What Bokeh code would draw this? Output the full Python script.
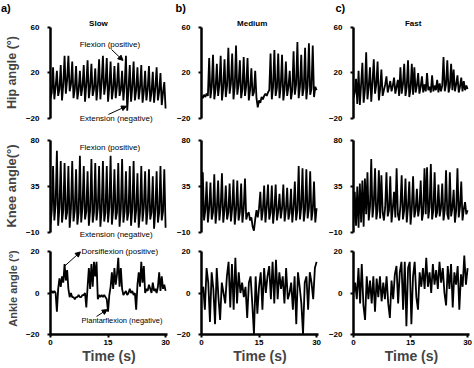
import numpy as np
from bokeh.plotting import figure
from bokeh.models import Range1d, FixedTicker, Label, Arrow, NormalHead
from bokeh.layouts import column, row
from bokeh.embed import file_html
from bokeh.resources import INLINE

# ---------------- data ----------------
speeds = ["Slow", "Medium", "Fast"]
panel_tags = ["a)", "b)", "c)"]
joint_labels = ["Hip angle (°)", "Knee angle(°)", "Ankle angle (°)"]
y_ticks = [[-20, 20, 60], [-10, 35, 80], [-20, 0, 20]]
y_limits = [(-20, 60), (-10, 80), (-20, 20)]
x_ticks = [0, 15, 30]

hip_slow = [-2,
    3, 25, -3, 8, 22, 0, 6, 27, -4, 10, 35, 2, 14, 35, 4, 10, 30, -2,
    6, 26, -3, 5, 22, 0, 8, 27, -5, 10, 31, -2, 8, 28, 0, 6, 24, -4,
    9, 32, -3, 12, 35, 1, 10, 33, -5, 8, 30, -3, 6, 26, -2, 9, 29, 0,
    5, 22, -4, 10, 35, -13, 6, 27, -5, 8, 30, -4, 5, 25, -3, 7, 27, -6,
    4, 22, -4, 6, 26, -5, 3, 21, -6, 7, 25, -4, 4, 20, -8, 3, 12, -11]
hip_medium = [0, -2, 1, -1, 2, 0,
    33, -2, 8, 36, -3, 6, 28, 0, 10, 35, -4, 7, 32, -1, 9, 42, 2, 11,
    37, -3, 8, 44, 1, 10, 31, -2, 6, 34, 0, 9, 33, -4, 5, 24, 0, 3,
    22, -2, -10, -4, -6, -1, -3, 0, 2, 0, 3, 5,
    37, -3, 8, 40, 0, 7, 37, -2, 9, 36, -4, 6, 30, 0, 8, 22, -3, 5,
    39, 1, 10, 47, -2, 8, 36, 0, 7, 42, -3, 9, 46, 1, 6, 44, -1, 8, 5]
hip_fast = [-2,
    3, 15, -7, 22, -8, 10, 29, -6, 5, 38, -3, 8, 25, -5, 12, 32, 2, 10,
    30, -4, 6, 23, 0, 5, 10, 17, 3, 8, 13, 4, 9, 16, 2, 8, 14, 0,
    25, 2, 10, 28, 0, 8, 31, -1, 6, 28, 1, 25, 3, 9, 20, 2, 8, 17,
    3, 10, 4, 20, 5, 8, 3, 18, 4, 9, 5, 14, 3, 11, 4, 9, 34, 4,
    10, 31, 3, 8, 28, 5, 23, 4, 10, 18, 3, 8, 16, 4, 13, 5, 9, 6]

knee_slow = [-2,
    12, 55, 2, 18, 70, -3, 15, 60, 0, 12, 58, 3, 10, 55, -5, 14, 60, 1,
    12, 52, -2, 10, 65, 0, 15, 55, 3, 11, 50, -3, 12, 62, 0, 10, 58, 2,
    14, 55, -4, 12, 60, 1, 10, 55, 0, 15, 65, -2, 12, 52, 3, 10, 58, -4,
    13, 62, 0, 11, 50, 2, 10, 55, -3, 14, 60, 0, 12, 48, -5, 10, 55, 1,
    15, 50, -2, 12, 52, 3, 10, 45, -6, 12, 50, 0, 10, 55, 2, 11, 52, -5]
knee_medium = [5, 49, 2,
    12, 40, 0, 14, 39, 3, 10, 47, -1, 13, 41, 2, 15, 48, 0, 12, 36, 3,
    10, 38, 1, 14, 42, -2, 12, 41, 2, 10, 38, 0, 13, 43, 3, 8, 10, 2,
    5, -4, -8, 3, 12, 5, 14, 30, 2, 12, 36, 0, 15, 37, 3, 10, 36, -1,
    13, 37, 2, 11, 28, 4, 14, 37, 1, 12, 34, 3, 10, 33, 0, 14, 40, 2,
    12, 55, 3, 15, 53, 1, 12, 52, 4, 14, 50, 2, 12, 40, 0, 14]
knee_fast = [0,
    30, -3, 35, -5, 38, 0, 41, -4, 43, 8, 49, 2, 15, 62, 5, 18, 53, 3,
    12, 51, 4, 46, 10, 2, 15, 49, 6, 12, 45, 0, 14, 30, 5, 53, 8, 2,
    16, 46, 3, 12, 43, 0, 15, 40, -2, 14, 45, 5, 12, 33, 6, 15, 41, 2,
    10, 53, 8, 54, 4, 15, 57, 3, 12, 49, 5, 10, 37, 6, 14, 38, 2, 12,
    51, 8, 3, 49, 6, 14, 32, 0, 12, 53, 5, 15, 40, 2, 13, 20, 8, 12]

ankle_slow = [0, 1, 0, 1, 0, -9, 2, 7, 3, 8, 5, 14, 6, 11, 2, -2,
    0, -2, -2, -3, -2, -2, -1, -2, -2, -1, -1, 0, -7, 3, 12, 2, 14, 3,
    15, 8, 15, -3, -1, -2, -1, -2, -1, -2, -3, -9, -1, 3, 10, 2, 12, 4,
    9, 17, 3, 12, 2, -1, 0, 1, -1, 0, 2, 0, 1, -1, 0, -8, 4, 10, 3, 15,
    5, 13, 0, 2, 1, 4, 2, 0, 5, 1, 2, 0, 3, 10, 1, 8, 2, 4, 1]
ankle_medium = [0, 3, -8, 12, 5, -14, 10, 2, -15, 12, -2, -13, 5, 0, -5,
    8, 15, -7, 14, -8, 17, -5, 10, 0, 5, -2, 3, -12, 5, 8, -5, -20, 8,
    -10, 3, 10, -8, 12, 0, 8, 13, -3, 15, -5, 16, -3, 10, 2, 8, -5, 12,
    -3, 0, 5, -8, 8, -15, 10, 3, -5, -20, 5, 8, -8, 10, 5, -3, 12, 15]
ankle_fast = [0, 5, -3, 12, -5, 14, -6, -13, 8, -3, 6, -5, 8, -9, 7, -2,
    8, -4, 5, -3, 8, -5, -12, 6, -3, 9, 13, -5, 10, 15, -8, 15, -16, 12,
    15, -15, 8, 15, -2, -8, 10, 3, 12, 2, 17, 3, 10, 0, 14, 4, 11, 2,
    15, 5, 12, 0, -6, 13, 2, 14, -7, 10, 4, 13, -8, 9, 3, 18, 4, 12]

series = [[hip_slow, hip_medium, hip_fast],
          [knee_slow, knee_medium, knee_fast],
          [ankle_slow, ankle_medium, ankle_fast]]

# ---------------- layout ----------------
FONT = "Liberation Sans"
col_left = [50, 30, 30]
col_frame = [117, 117, 116]
col_right = [4, 5, 5]
# visible frame range per row (extends beyond the axis bounds so notes fit)
row_view = [(-29.34, 70.2), (-19.46, 90.73), (-20, 24.34)]
row_frame = [114, 113, 92]
row_bottom = [0, 0, 31]
label_sizes = ["12.5px", "13px", "11px"]
STRIP_H = 15


def lab(p, x, y, text, size="8px", style="normal", align="left"):
    p.add_layout(Label(x=x, y=y, text=text, text_font=FONT, text_font_size=size,
                       text_font_style=style, text_align=align,
                       text_baseline="middle", text_color="black"))


def arr(p, x0, y0, x1, y1):
    p.add_layout(Arrow(end=NormalHead(size=5, fill_color="black", line_color="black"),
                       x_start=x0, y_start=y0, x_end=x1, y_end=y1,
                       line_color="black", line_width=1))


# top strip holding the panel tags a), b), c)
total_w = sum(col_left) + sum(col_frame) + sum(col_right)
strip = figure(frame_width=total_w, frame_height=STRIP_H, min_border=0,
               x_range=Range1d(0, total_w), y_range=Range1d(0, STRIP_H),
               x_axis_type=None, y_axis_type=None,
               output_backend="svg", toolbar_location=None)
strip.outline_line_color = None
strip.grid.visible = False
for tag, tx in zip(panel_tags, [0.5, 175, 335]):
    lab(strip, tx, 7.5, tag, "11px", "bold", "left")

rows = [strip]
for r in range(3):
    figs = []
    for c in range(3):
        vals = series[r][c]
        t = np.linspace(0, 30, len(vals))
        p = figure(frame_width=col_frame[c], frame_height=row_frame[r],
                   min_border_left=col_left[c], min_border_right=col_right[c],
                   min_border_top=0, min_border_bottom=row_bottom[r],
                   x_range=Range1d(0, 30.5), y_range=Range1d(*row_view[r]),
                   output_backend="svg", toolbar_location=None)
        p.outline_line_color = None
        p.grid.visible = False
        p.background_fill_color = "white"
        p.border_fill_color = "white"
        p.line(t, vals, line_color="black", line_width=1.8)

        for ax in (p.xaxis[0], p.yaxis[0]):
            ax.axis_line_width = 2.5
            ax.axis_line_color = "black"
            ax.major_tick_line_width = 2
            ax.major_tick_in = 0
            ax.major_tick_out = 3
            ax.minor_tick_line_color = None
            ax.major_label_text_font = FONT
            ax.major_label_text_font_style = "bold"
            ax.major_label_text_font_size = "8px"
            ax.major_label_text_color = "black"
        p.yaxis.ticker = FixedTicker(ticks=y_ticks[r])
        p.yaxis.bounds = y_limits[r]
        p.yaxis.major_label_standoff = 8
        p.xaxis.ticker = FixedTicker(ticks=x_ticks)
        p.xaxis.major_label_standoff = 2
        if r < 2:
            p.xaxis.visible = False
        else:
            p.xaxis.axis_label = "Time (s)"
            p.xaxis.axis_label_text_font = FONT
            p.xaxis.axis_label_text_font_style = "bold"
            p.xaxis.axis_label_text_font_size = "14px"
            p.xaxis.axis_label_standoff = 0
        if c == 0:
            p.yaxis.axis_label = joint_labels[r]
            p.yaxis.axis_label_text_font = FONT
            p.yaxis.axis_label_text_font_style = "bold"
            p.yaxis.axis_label_text_font_size = label_sizes[r]
            p.yaxis.axis_label_standoff = 4
        if r == 0:
            lab(p, [12.5, 13.2, 15.7][c], 62.8, speeds[c], "8px", "bold", "center")
        if c == 0:
            if r == 0:
                lab(p, 7.6, 44.9, "Flexion (positive)")
                lab(p, 7.6, -19.7, "Extension (negative)")
                arr(p, 15.9, 40.5, 18.9, 31)
                arr(p, 15.1, -16.2, 19.8, -9)
            elif r == 1:
                lab(p, 7.6, 73.2, "Flexion (positive)")
                lab(p, 7.6, -11.7, "Extension (negative)")
            else:
                lab(p, 8.1, 20, "Dorsiflexion (positive)")
                lab(p, 8.1, -13.3, "Plantarflexion (negative)", "7.5px")
                arr(p, 3.7, 13, 7.8, 19.8)
                arr(p, 12.0, -11.3, 14.8, -8)
        figs.append(p)
    rows.append(row(figs, spacing=0))

layout = column(rows, spacing=0)
open("out.html", "w").write(file_html(layout, INLINE))
